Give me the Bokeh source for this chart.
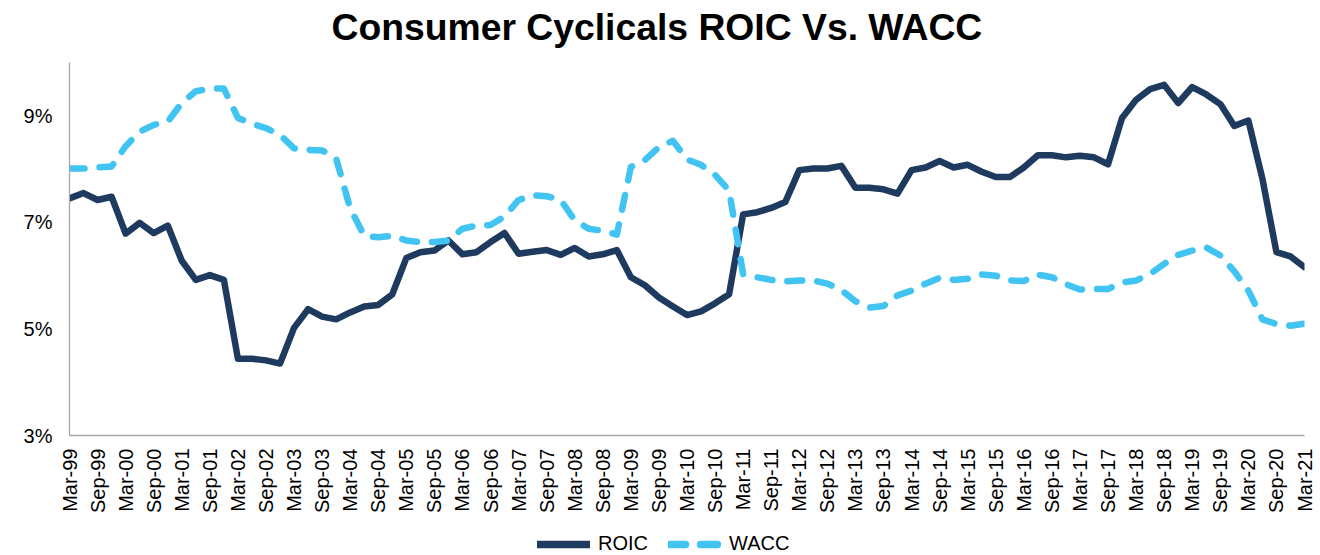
from bokeh.plotting import figure
from bokeh.layouts import column
from bokeh.models import (Range1d, FixedTicker, PrintfTickFormatter, Legend, LegendItem, Label)
from bokeh.embed import file_html
from bokeh.resources import INLINE
import math

quarters = [
    "Mar-99", "Jun-99", "Sep-99", "Dec-99", "Mar-00", "Jun-00", "Sep-00", "Dec-00",
    "Mar-01", "Jun-01", "Sep-01", "Dec-01", "Mar-02", "Jun-02", "Sep-02", "Dec-02",
    "Mar-03", "Jun-03", "Sep-03", "Dec-03", "Mar-04", "Jun-04", "Sep-04", "Dec-04",
    "Mar-05", "Jun-05", "Sep-05", "Dec-05", "Mar-06", "Jun-06", "Sep-06", "Dec-06",
    "Mar-07", "Jun-07", "Sep-07", "Dec-07", "Mar-08", "Jun-08", "Sep-08", "Dec-08",
    "Mar-09", "Jun-09", "Sep-09", "Dec-09", "Mar-10", "Jun-10", "Sep-10", "Dec-10",
    "Mar-11", "Jun-11", "Sep-11", "Dec-11", "Mar-12", "Jun-12", "Sep-12", "Dec-12",
    "Mar-13", "Jun-13", "Sep-13", "Dec-13", "Mar-14", "Jun-14", "Sep-14", "Dec-14",
    "Mar-15", "Jun-15", "Sep-15", "Dec-15", "Mar-16", "Jun-16", "Sep-16", "Dec-16",
    "Mar-17", "Jun-17", "Sep-17", "Dec-17", "Mar-18", "Jun-18", "Sep-18", "Dec-18",
    "Mar-19", "Jun-19", "Sep-19", "Dec-19", "Mar-20", "Jun-20", "Sep-20", "Dec-20",
    "Mar-21",
]

roic = [
    7.45, 7.55, 7.42, 7.48, 6.79, 6.99, 6.80, 6.94,
    6.28, 5.92, 6.01, 5.92, 4.44, 4.44, 4.41, 4.35,
    5.02, 5.37, 5.23, 5.18, 5.31, 5.42, 5.45, 5.65,
    6.33, 6.44, 6.47, 6.66, 6.40, 6.44, 6.63, 6.80,
    6.41, 6.45, 6.48, 6.39, 6.52, 6.36, 6.40, 6.48,
    5.97, 5.82, 5.59, 5.42, 5.26, 5.33, 5.48, 5.65,
    7.15, 7.19, 7.27, 7.38, 7.98, 8.01, 8.01, 8.06,
    7.65, 7.65, 7.62, 7.54, 7.98, 8.03, 8.15, 8.03,
    8.08, 7.95, 7.85, 7.85, 8.03, 8.26, 8.26, 8.22,
    8.25, 8.22, 8.09, 8.96, 9.30, 9.50, 9.58, 9.24,
    9.54, 9.40, 9.22, 8.81, 8.91, 7.82, 6.44, 6.36,
    6.16,
]

wacc = [
    8.01, 8.01, 8.03, 8.05, 8.43, 8.70, 8.83, 8.89,
    9.24, 9.46, 9.51, 9.51, 8.96, 8.85, 8.77, 8.64,
    8.39, 8.36, 8.35, 8.20, 7.26, 6.75, 6.72, 6.75,
    6.66, 6.63, 6.63, 6.66, 6.88, 6.94, 6.95, 7.11,
    7.42, 7.51, 7.49, 7.42, 7.04, 6.88, 6.84, 6.77,
    8.04, 8.17, 8.41, 8.53, 8.18, 8.08, 7.89, 7.60,
    6.03, 5.97, 5.92, 5.89, 5.91, 5.91, 5.85, 5.73,
    5.52, 5.40, 5.43, 5.63, 5.72, 5.85, 5.96, 5.92,
    5.94, 6.02, 6.00, 5.91, 5.90, 6.02, 5.97, 5.84,
    5.74, 5.75, 5.75, 5.87, 5.91, 6.03, 6.22, 6.39,
    6.47, 6.53, 6.38, 6.08, 5.72, 5.18, 5.09, 5.06,
    5.10,
]

y_ticks = [3, 5, 7, 9]
title_text = "Consumer Cyclicals ROIC Vs. WACC"
series_names = ["ROIC", "WACC"]

FONT = "Liberation Sans"
NAVY = "#1F3A5F"
LIGHT = "#42C4F3"
AXIS_GRAY = "#A6A6A6"

x = list(range(len(quarters)))


def bare_figure(h):
    f = figure(width=1320, height=h, output_backend="svg", toolbar_location=None,
               x_range=Range1d(0, 1), y_range=Range1d(100, 101),
               x_axis_type=None, y_axis_type=None,
               min_border_left=0, min_border_right=0, min_border_top=0,
               min_border_bottom=0)
    f.outline_line_color = None
    f.xgrid.visible = False
    f.ygrid.visible = False
    f.background_fill_color = "white"
    f.border_fill_color = "white"
    return f


# ---------------- title strip ----------------
head = bare_figure(62)
head.add_layout(Label(x=262, y=36, x_units="screen", y_units="screen",
                      text=title_text, text_font=FONT, text_font_size="37.3px",
                      text_font_style="bold", text_color="#000000",
                      text_align="left", text_baseline="alphabetic"))

# ---------------- main chart ----------------
p = figure(width=1320, height=463, output_backend="svg", toolbar_location=None,
           x_range=Range1d(0, len(quarters) - 1), y_range=Range1d(3, 10),
           min_border_left=69, min_border_right=16, min_border_top=0,
           min_border_bottom=90)
p.outline_line_color = None
p.xgrid.visible = False
p.ygrid.visible = False
p.background_fill_color = "white"
p.border_fill_color = "white"

p.line(x, roic, line_color=NAVY, line_width=6.5, line_join="round", line_cap="round")
p.line(x, wacc, line_color=LIGHT, line_width=6.5, line_join="round", line_cap="round",
       line_dash="15 15")

xa = p.xaxis[0]
xa.ticker = FixedTicker(ticks=list(range(0, len(quarters), 2)))
xa.major_label_overrides = {i: quarters[i] for i in range(0, len(quarters), 2)}
xa.major_label_orientation = math.pi / 2
xa.major_label_text_font = FONT
xa.major_label_text_font_size = "20px"
xa.major_label_text_color = "#000000"
xa.major_label_standoff = 13
xa.major_tick_line_color = None
xa.minor_tick_line_color = None
xa.major_tick_out = 0
xa.major_tick_in = 0
xa.axis_line_color = AXIS_GRAY
xa.axis_line_width = 1.3

ya = p.yaxis[0]
ya.ticker = FixedTicker(ticks=y_ticks)
ya.formatter = PrintfTickFormatter(format="%d%%")
ya.major_label_text_font = FONT
ya.major_label_text_font_size = "20px"
ya.major_label_text_color = "#000000"
ya.major_label_standoff = 17
ya.major_tick_line_color = None
ya.minor_tick_line_color = None
ya.major_tick_out = 0
ya.major_tick_in = 0
ya.axis_line_color = AXIS_GRAY
ya.axis_line_width = 1.3

# ---------------- legend strip ----------------
leg = bare_figure(30)
lr1 = leg.line(x, roic, line_color=NAVY, line_width=7.5, line_cap="round")
lr2 = leg.line(x, wacc, line_color=LIGHT, line_width=7.5, line_cap="round",
               line_dash="17 15")

legend = Legend(items=[LegendItem(label=series_names[0], renderers=[lr1]),
                       LegendItem(label=series_names[1], renderers=[lr2])],
                location=(468, 0), orientation="horizontal",
                padding=0, margin=0, spacing=20, glyph_width=53, glyph_height=20,
                label_standoff=8, label_height=20,
                label_text_font=FONT, label_text_font_size="20px",
                label_text_color="#000000",
                border_line_color=None, background_fill_alpha=0)
leg.add_layout(legend)

layout = column(head, p, leg, spacing=0)
open("out.html", "w").write(file_html(layout, INLINE))
